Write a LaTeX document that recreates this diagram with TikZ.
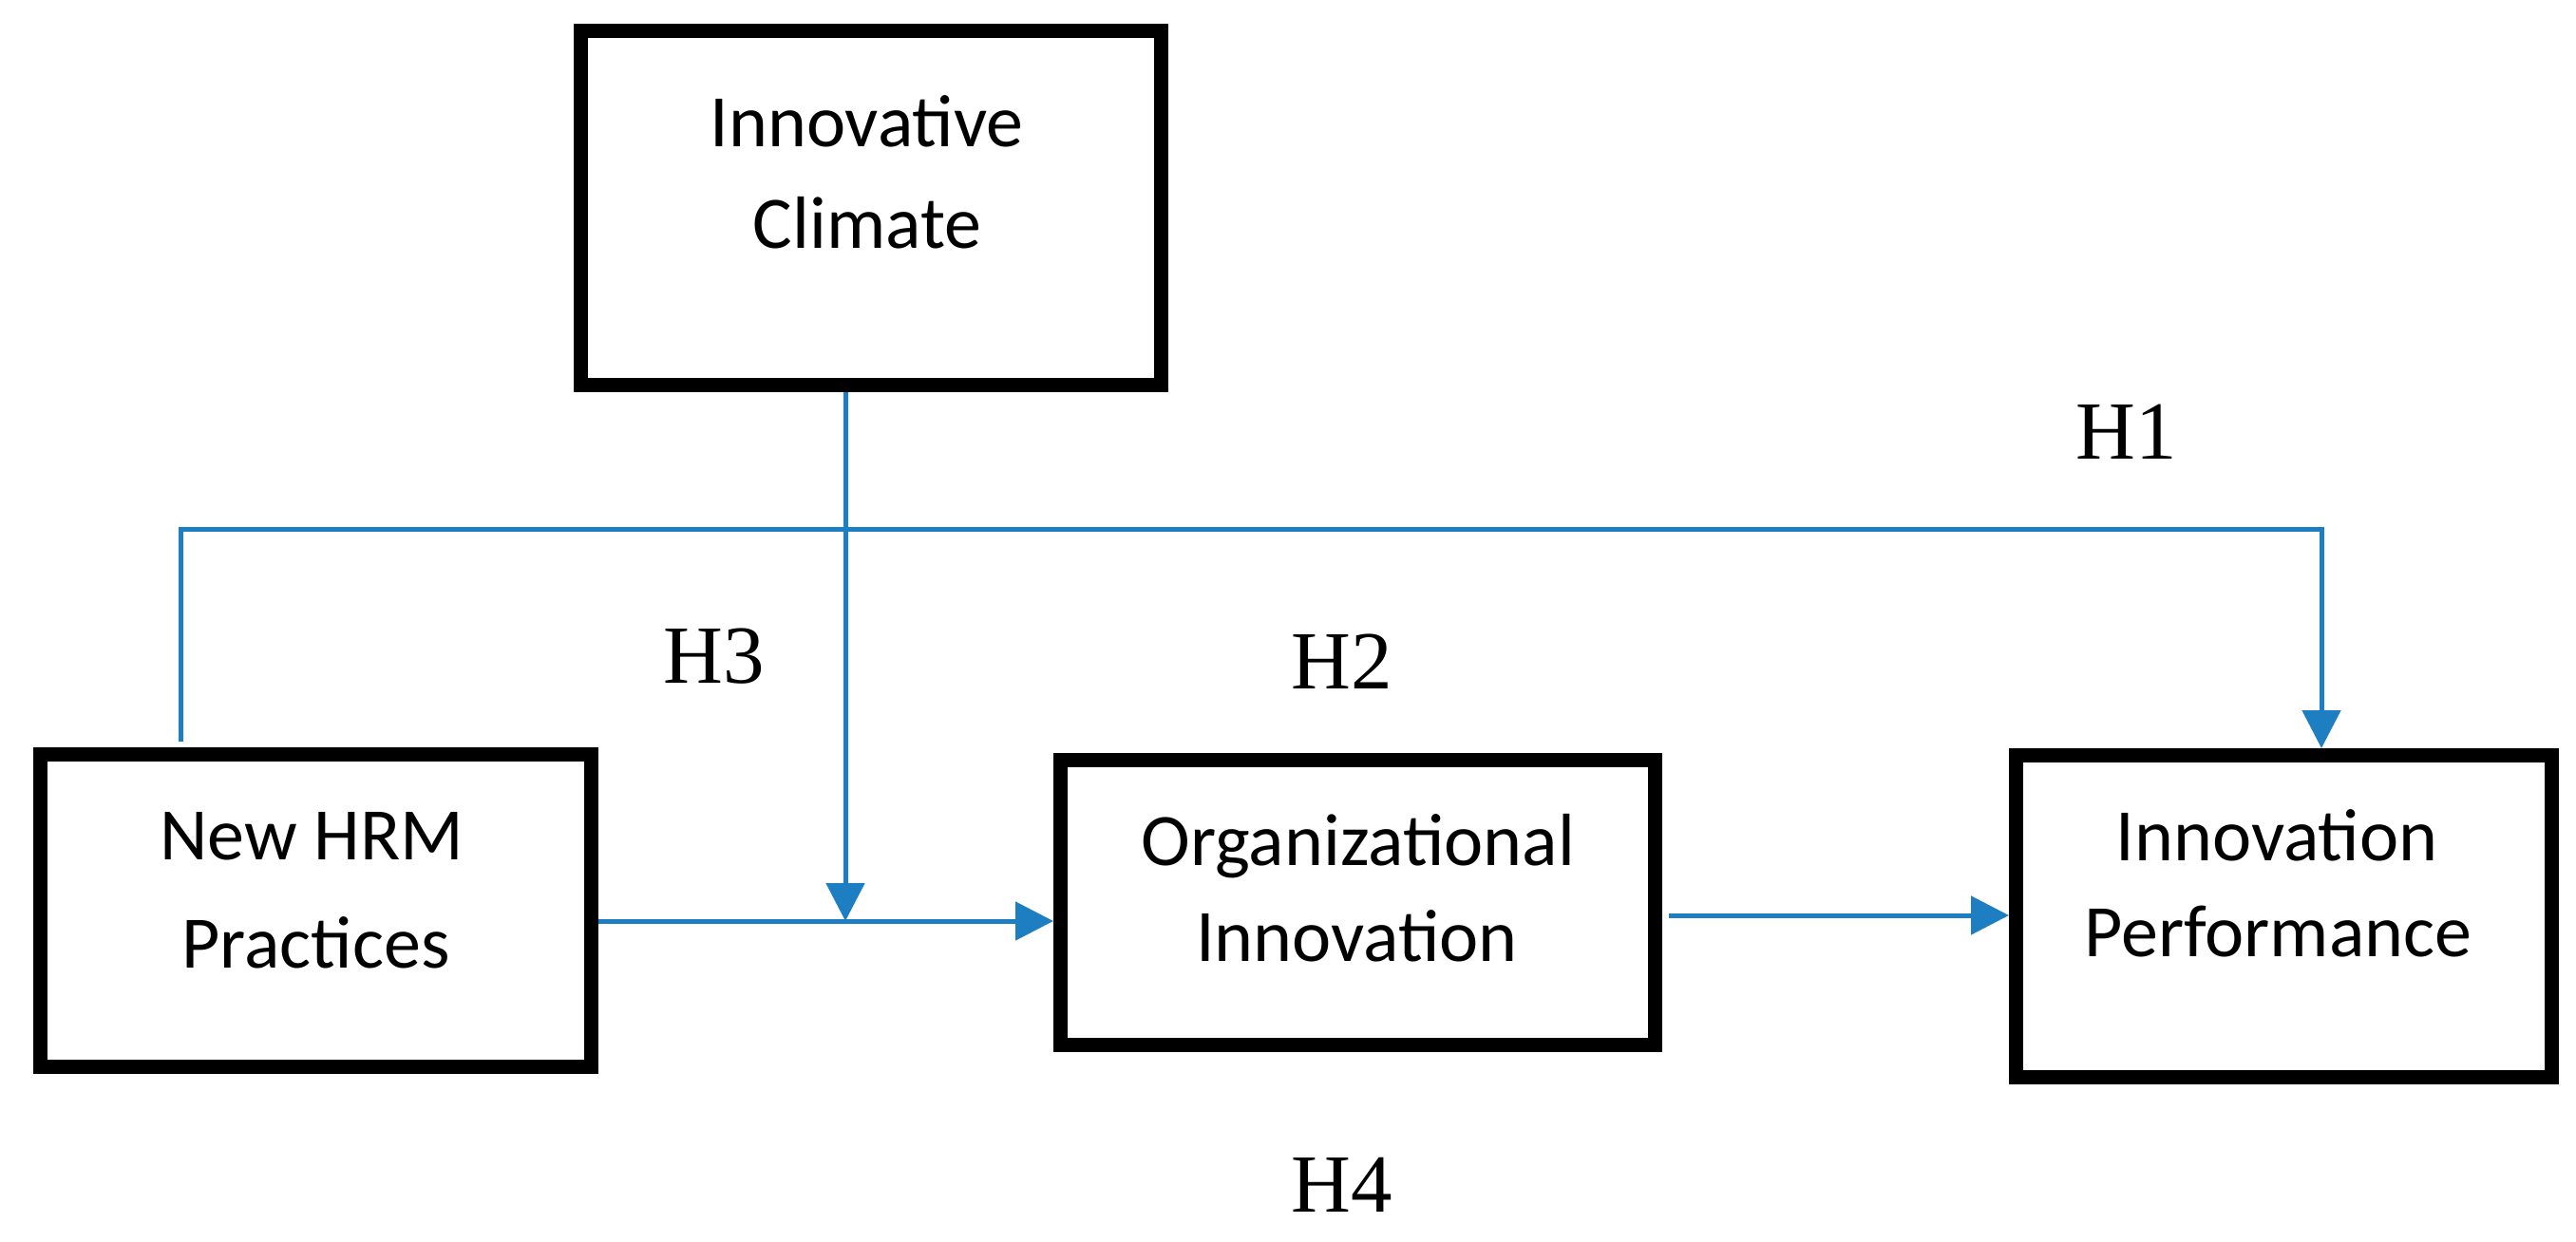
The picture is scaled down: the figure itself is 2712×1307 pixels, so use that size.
\documentclass[tikz,border=0pt]{standalone}
\usepackage{fontspec}
\setmainfont{Carlito}
\newfontfamily\hfont{Liberation Serif}
\usetikzlibrary{arrows.meta}
\definecolor{linkblue}{RGB}{29,127,193}
\begin{document}
\begin{tikzpicture}[x=0.3pt,y=-0.3pt,
  box/.style={draw=black, line width=4.5pt, rectangle, inner sep=0pt, line join=miter},
  boxtext/.style={font=\fontsize{23.4pt}{28pt}\selectfont, anchor=base, inner sep=0pt},
  hyp/.style={font=\hfont\fontsize{26.1pt}{30pt}\selectfont, anchor=base west, inner sep=0pt},
  conn/.style={draw=linkblue, line width=1.5pt, line join=miter, -{Triangle[length=12pt,width=12pt]}}]
\useasboundingbox (0,0) rectangle (2712,1307);
% boxes
\node[box, minimum width=183.3pt, minimum height=111.9pt] (ic) at (917,219) {};
\node[box, minimum width=174pt, minimum height=98.7pt] (nh) at (332.5,959) {};
\node[box, minimum width=187.8pt, minimum height=90pt] (oi) at (1429.5,950.5) {};
\node[box, minimum width=169.2pt, minimum height=101.7pt] (ip) at (2404.5,965) {};
% box texts
\node[boxtext] (ic1) at (912.5,154) {Innovative};
\node[boxtext] (ic2) at (913,261) {Climate};
\node[boxtext] (nh1) at (328.5,905.5) {New HRM};
\node[boxtext] (nh2) at (332.5,1019) {Practices};
\node[boxtext] (oi1) at (1430,911) {Organizational};
\node[boxtext] (oi2) at (1428.5,1012) {Innovation};
\node[boxtext] (ip1) at (2397,906) {Innovation};
\node[boxtext] (ip2) at (2398.5,1007) {Performance};
% hypothesis labels
\node[hyp] (h1) at (2185,483) {H1};
\node[hyp] (h2) at (1359,725) {H2};
\node[hyp] (h3) at (698,719) {H3};
\node[hyp] (h4) at (1359,1276) {H4};
% routing points
\coordinate (j) at (890,970);
\coordinate (k) at (1757,964);
\coordinate (ta) at (190,557);
\coordinate (tb) at (2444,557);
% connectors
\draw[conn] (nh.east |- j) -- (oi.west |- j);
\draw[conn] (ic.south -| j) -- (j);
\draw[conn, shorten <=2.1pt] (oi.east |- k) -- (ip.west |- k);
\draw[conn, shorten <=1.8pt] (nh.north -| ta) -- (ta) -- (tb) -- (ip.north -| tb);
\end{tikzpicture}
\end{document}
